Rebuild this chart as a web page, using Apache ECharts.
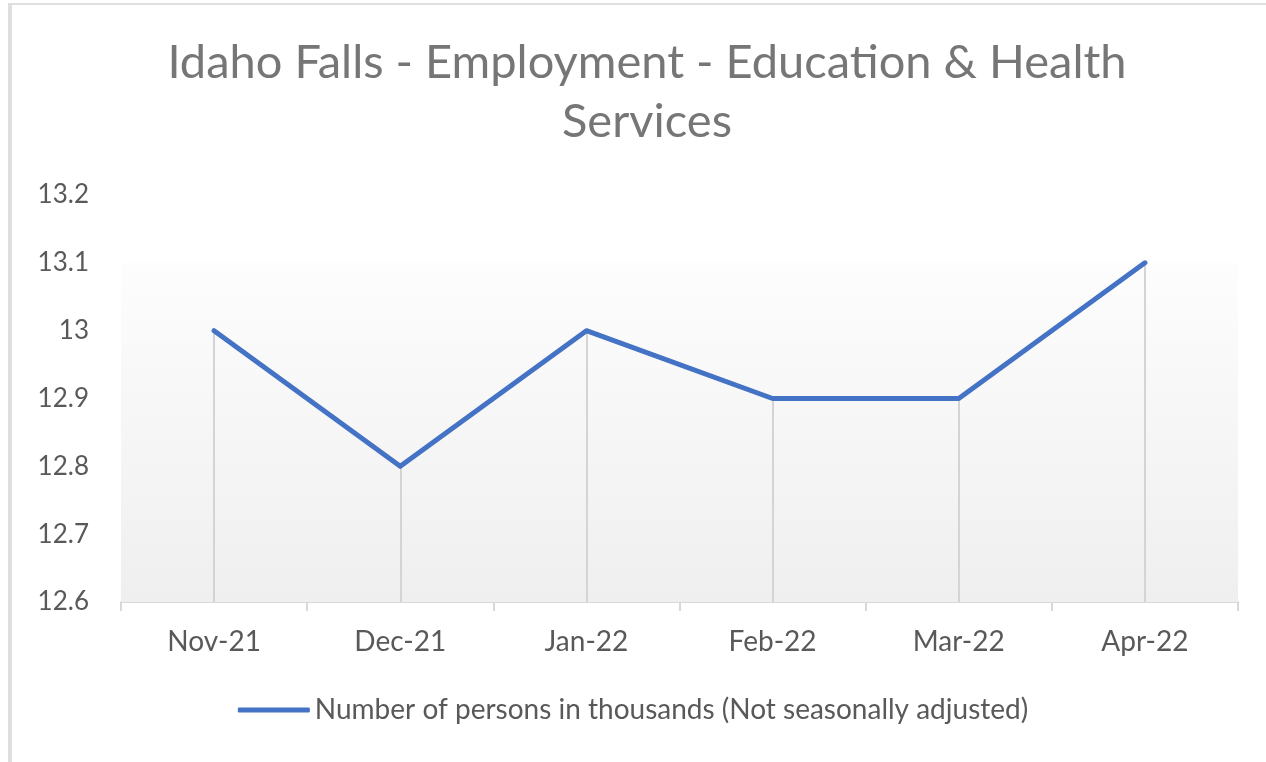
<!DOCTYPE html>
<html>
<head>
<meta charset="utf-8">
<script src="https://cdn.jsdelivr.net/npm/echarts@6/dist/echarts.min.js"></script>
<style>
  html, body { margin: 0; padding: 0; background: #fff; }
  #chart { position: absolute; left: 0; top: 0; width: 1266px; height: 762px; }
  #frame {
    position: absolute; left: 8px; top: 3px; width: 1258px; height: 757px;
    border-left: 4px solid #dedede; border-top: 2px solid #dedede; border-bottom: 1px solid #eeeeee;
    pointer-events: none;
  }
</style>
</head>
<body>
<div id="chart"></div>
<div id="frame"></div>
<script>
const months = ['Nov-21', 'Dec-21', 'Jan-22', 'Feb-22', 'Mar-22', 'Apr-22']
const persons = [13.0, 12.8, 13.0, 12.9, 12.9, 13.1]
const yMin = 12.6
const yMax = 13.2
const seriesName = 'Number of persons in thousands (Not seasonally adjusted)'

const chart = echarts.init(document.getElementById('chart'), null, { renderer: 'canvas' })

// drop lines from each point to the axis
const dropLines = persons.map((v, i) => [
  { coord: [i, v] },
  { coord: [i, yMin] }
])

const option = {
  backgroundColor: '#fff',
  animation: false,
  textStyle: { fontFamily: 'Lato' },
  title: {
    text: 'Idaho Falls - Employment - Education & Health\nServices',
    left: 642,
    textAlign: 'center',
    top: 28,
    textStyle: {
      color: '#767676',
      fontSize: 47,
      fontWeight: 'normal',
      fontFamily: 'Lato',
      lineHeight: 59
    }
  },
  grid: {
    left: 121,
    right: 28,
    top: 195,
    bottom: 160
  },
  legend: {
    bottom: 33,
    left: 'center',
    itemWidth: 72,
    itemHeight: 5,
    itemGap: 4,
    icon: 'roundRect',
    textStyle: { color: '#595959', fontSize: 28, fontFamily: 'Lato' },
    data: [seriesName]
  },
  xAxis: {
    type: 'category',
    data: months,
    boundaryGap: true,
    axisLine: { lineStyle: { color: '#d9d9d9', width: 2 } },
    axisTick: { show: true, length: 9, lineStyle: { color: '#d9d9d9', width: 2 } },
    axisLabel: { color: '#595959', fontSize: 28, margin: 26 },
    splitLine: { show: false }
  },
  yAxis: {
    type: 'value',
    min: yMin,
    max: yMax,
    interval: 0.1,
    axisLine: { show: false },
    axisTick: { show: false },
    axisLabel: {
      color: '#595959',
      fontSize: 26,
      margin: 32,
      formatter: v => String(parseFloat(v.toFixed(1)))
    },
    splitLine: { show: false }
  },
  series: [
    {
      name: seriesName,
      type: 'line',
      data: persons,
      symbol: 'none',
      lineStyle: { color: '#4472c4', width: 5, cap: 'round', join: 'round' },
      itemStyle: { color: '#4472c4' },
      z: 5,
      markArea: {
        silent: true,
        itemStyle: {
          color: new echarts.graphic.LinearGradient(0, 0, 0, 1, [
            { offset: 0, color: '#fdfdfd' },
            { offset: 1, color: '#efefef' }
          ])
        },
        data: [[{ yAxis: Math.max(...persons) }, { yAxis: yMin }]]
      },
      markLine: {
        silent: true,
        symbol: 'none',
        label: { show: false },
        lineStyle: { color: '#d4d4d4', width: 2, type: 'solid' },
        data: dropLines
      }
    }
  ]
}

chart.setOption(option)
</script>
</body>
</html>
